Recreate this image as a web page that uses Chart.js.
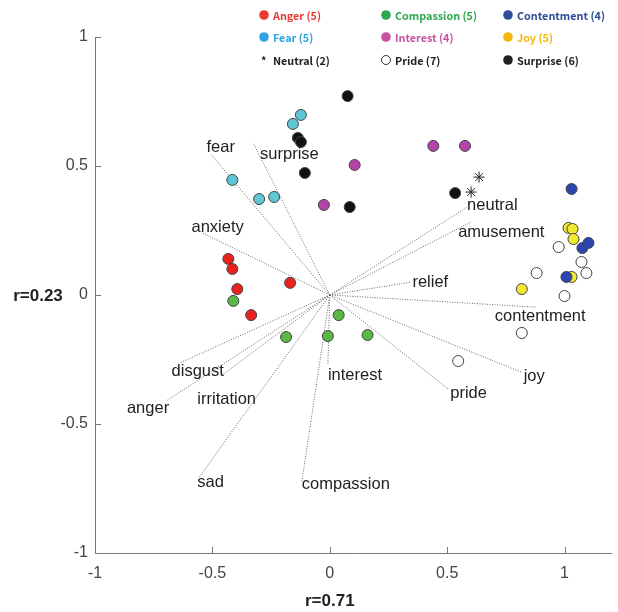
<!DOCTYPE html>
<html>
<head>
<meta charset="utf-8">
<script src="https://cdn.jsdelivr.net/npm/chart.js@4/dist/chart.umd.min.js"></script>
<style>
  html, body { margin: 0; padding: 0; background: #fff; }
  #wrap { width: 618px; height: 612px; }
</style>
</head>
<body>
<div id="wrap"><canvas id="c" width="618" height="612"></canvas></div>
<script>
// skupine (točke)
const groupNames = ['Anger', 'Compassion', 'Contentment', 'Fear', 'Interest', 'Joy', 'Neutral', 'Pride', 'Surprise'];
const angerX = [-0.432, -0.415, -0.394, -0.335, -0.169];
const angerY = [0.140, 0.101, 0.023, -0.078, 0.047];
const compassionX = [-0.411, -0.186, -0.008, 0.038, 0.161];
const compassionY = [-0.023, -0.163, -0.159, -0.078, -0.155];
const contentmentX = [1.030, 1.076, 1.102, 1.008];
const contentmentY = [0.411, 0.182, 0.202, 0.070];
const fearX = [-0.123, -0.157, -0.415, -0.301, -0.237];
const fearY = [0.698, 0.663, 0.446, 0.372, 0.380];
const interestX = [0.441, 0.576, 0.106, -0.025];
const interestY = [0.578, 0.578, 0.504, 0.349];
const joyX = [1.017, 1.034, 1.038, 1.030, 0.818];
const joyY = [0.260, 0.256, 0.217, 0.070, 0.023];
const neutralX = [0.636, 0.602];
const neutralY = [0.457, 0.399];
const prideX = [0.975, 1.072, 1.093, 0.881, 1.000, 0.818, 0.547];
const prideY = [0.186, 0.128, 0.085, 0.085, -0.004, -0.147, -0.256];
const surpriseX = [0.076, 0.085, 0.534, -0.136, -0.123, -0.106];
const surpriseY = [0.771, 0.341, 0.395, 0.609, 0.593, 0.473];

// vektorji (konci črt) in položaji napisov
const vecNames = ['fear', 'surprise', 'anxiety', 'neutral', 'amusement', 'relief', 'contentment', 'joy', 'pride', 'interest', 'compassion', 'sad', 'irritation', 'disgust', 'anger'];
const vecX = [-0.504, -0.326, -0.542, 0.585, 0.602, 0.347, 0.877, 0.814, 0.504, -0.008, -0.119, -0.555, -0.458, -0.640, -0.691];
const vecY = [0.543, 0.589, 0.240, 0.341, 0.283, 0.050, -0.047, -0.298, -0.364, -0.271, -0.725, -0.705, -0.310, -0.264, -0.407];
const labelX = [-0.525, -0.297, -0.589, 0.585, 0.547, 0.352, 0.703, 0.826, 0.513, -0.008, -0.119, -0.564, -0.564, -0.674, -0.864];
const labelY = [0.570, 0.543, 0.260, 0.349, 0.244, 0.050, -0.085, -0.314, -0.380, -0.310, -0.736, -0.725, -0.403, -0.295, -0.438];

const xTicks = [-1, -0.5, 0, 0.5, 1];
const yTicks = [-1, -0.5, 0, 0.5, 1];
const xTitle = 'r=0.71';
const yTitle = 'r=0.23';

const groupX = [angerX, compassionX, contentmentX, fearX, interestX, joyX, neutralX, prideX, surpriseX];
const groupY = [angerY, compassionY, contentmentY, fearY, interestY, joyY, neutralY, prideY, surpriseY];
const fillColors = ['#e8231f', '#5cb846', '#2b46b0', '#5fc6d6', '#b445a8', '#f0e92e', '#222', '#ffffff', '#111111'];
const legendColors = ['#ea3a36', '#2ea84f', '#2f4c9a', '#2ea3df', '#c9519f', '#f2b90c', '#222', '#222', '#222'];

const pts = (xs, ys) => xs.map((x, i) => ({ x: x, y: ys[i] }));

const datasets = [];
groupNames.forEach((n, g) => {
    const isStar = n === 'Neutral';
    datasets.push({
        label: n,
        type: 'scatter',
        data: pts(groupX[g], groupY[g]),
        pointStyle: isStar ? 'star' : 'circle',
        pointRadius: isStar ? 5.5 : 5.5,
        backgroundColor: fillColors[g],
        borderColor: isStar ? '#222' : '#444',
        borderWidth: 1,
        order: 0
    });
});
vecNames.forEach((n, i) => {
    datasets.push({
        label: 'v-' + n,
        type: 'line',
        data: [{ x: 0, y: 0 }, { x: vecX[i], y: vecY[i] }],
        borderColor: '#666',
        borderWidth: 1,
        borderDash: [1, 1.5],
        pointRadius: 0,
        fill: false,
        order: 5
    });
});

const tickFmt = v => String(v);

// napisi, legenda, notranje oznake
const extras = {
    id: 'extras',
    afterDraw(chart) {
        const ctx = chart.ctx;
        const xs = chart.scales.x, ys = chart.scales.y;
        ctx.save();
        // notranje oznake na oseh
        ctx.strokeStyle = '#777';
        ctx.lineWidth = 1;
        ctx.beginPath();
        xTicks.forEach(v => {
            const px = Math.round(xs.getPixelForValue(v)) + 0.5;
            ctx.moveTo(px, ys.bottom); ctx.lineTo(px, ys.bottom - 6);
        });
        yTicks.forEach(v => {
            const py = Math.round(ys.getPixelForValue(v)) + 0.5;
            ctx.moveTo(xs.left, py); ctx.lineTo(xs.left + 6, py);
        });
        ctx.stroke();

        // napisi vektorjev
        ctx.fillStyle = '#222';
        ctx.font = '16.5px "Liberation Sans", Arial, sans-serif';
        ctx.textAlign = 'left';
        ctx.textBaseline = 'middle';
        vecNames.forEach((n, i) => {
            ctx.fillText(n, xs.getPixelForValue(labelX[i]), ys.getPixelForValue(labelY[i]));
        });

        // naslova osi
        ctx.font = 'bold 17px "Liberation Sans", Arial, sans-serif';
        ctx.textAlign = 'center';
        ctx.fillText(xTitle, xs.getPixelForValue(0), 601);
        ctx.fillText(yTitle, 38, ys.getPixelForValue(0) + 1);

        // legenda (3 stolpci)
        const colX = [264, 386, 508];
        const rowY = [15, 37, 60];
        ctx.font = 'bold 10.8px "Noto Sans CJK KR", "Noto Sans", sans-serif';
        ctx.textAlign = 'left';
        groupNames.forEach((n, g) => {
            const cx = colX[g % 3], cy = rowY[Math.floor(g / 3)];
            const label = n + ' (' + groupX[g].length + ')';
            if (n === 'Neutral') {
                ctx.fillStyle = '#222';
                ctx.fillText('*', cx - 3, cy + 1);
            } else if (n === 'Pride') {
                ctx.beginPath();
                ctx.arc(cx, cy, 4.5, 0, Math.PI * 2);
                ctx.fillStyle = '#fff'; ctx.fill();
                ctx.strokeStyle = '#333'; ctx.lineWidth = 1; ctx.stroke();
            } else {
                ctx.beginPath();
                ctx.arc(cx, cy, 4.8, 0, Math.PI * 2);
                ctx.fillStyle = legendColors[g]; ctx.fill();
            }
            ctx.fillStyle = legendColors[g];
            ctx.fillText(label, cx + 9, cy + 1);
        });
        ctx.restore();
    }
};

new Chart(document.getElementById('c'), {
    type: 'scatter',
    data: { datasets: datasets },
    options: {
        responsive: false,
        animation: false,
        layout: { padding: { top: 37, left: 0, right: 4, bottom: 0 } },
        plugins: { legend: { display: false }, tooltip: { enabled: false } },
        scales: {
            x: {
                type: 'linear', min: -1, max: 1.2,
                afterBuildTicks: s => { s.ticks = xTicks.map(v => ({ value: v })); },
                afterFit: s => { s.height = 59; },
                grid: { display: false, drawTicks: false },
                border: { display: true, color: '#777', width: 1 },
                ticks: { color: '#444', padding: 11, callback: tickFmt, font: { size: 16, family: '"Liberation Sans", Arial, sans-serif' }, maxRotation: 0 }
            },
            y: {
                type: 'linear', min: -1, max: 1,
                afterBuildTicks: s => { s.ticks = yTicks.map(v => ({ value: v })); },
                afterFit: s => { s.width = 95; },
                grid: { display: false, drawTicks: false },
                border: { display: true, color: '#777', width: 1 },
                ticks: { color: '#444', padding: 7, callback: tickFmt, font: { size: 16, family: '"Liberation Sans", Arial, sans-serif' } }
            }
        }
    },
    plugins: [extras]
});
</script>
</body>
</html>
